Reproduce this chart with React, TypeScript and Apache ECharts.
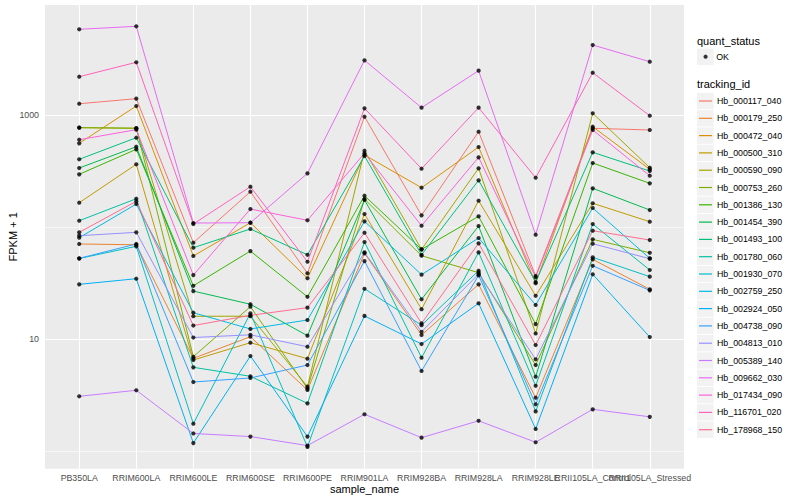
import React, { useEffect, useRef } from "react";
import * as echarts from "echarts";

const samples = [
  "PB350LA", "RRIM600LA", "RRIM600LE", "RRIM600SE", "RRIM600PE", "RRIM901LA",
  "RRIM928BA", "RRIM928LA", "RRIM928LE", "RRII105LA_Control", "RRII105LA_Stressed",
];

const trackingIds = [
  "Hb_000117_040", "Hb_000179_250", "Hb_000472_040", "Hb_000500_310", "Hb_000590_090",
  "Hb_000753_260", "Hb_001386_130", "Hb_001454_390", "Hb_001493_100", "Hb_001780_060",
  "Hb_001930_070", "Hb_002759_250", "Hb_002924_050", "Hb_004738_090", "Hb_004813_010",
  "Hb_005389_140", "Hb_009662_030", "Hb_017434_090", "Hb_116701_020", "Hb_178968_150",
];

const hueColors = [
  "#F8766D", "#EA8331", "#D89000", "#C09B00", "#A3A500", "#7CAE00", "#39B600", "#00BB4E",
  "#00BF7D", "#00C1A3", "#00BFC4", "#00BAE0", "#00B0F6", "#35A2FF", "#9590FF", "#C77CFF",
  "#E76BF3", "#FA62DB", "#FF62BC", "#FF6C91",
];

// FPKM + 1 per sample (same order as samples)
const hb000117_040 = [1266, 1404, 72.9, 207.8, 38.9, 969.6, 127.9, 712.5, 36.8, 764, 738];
const hb000179_250 = [71.0, 69.9, 6.78, 10.57, 3.54, 58.6, 10.95, 31.0, 3.02, 51.8, 28.0];
const hb000472_040 = [561.5, 1208, 55.5, 109.9, 35.1, 441.6, 225.6, 520.3, 31.7, 789.6, 329.2];
const hb000500_310 = [165.8, 364.8, 6.55, 9.35, 6.73, 131.4, 18.6, 172.7, 24.5, 163.8, 112.2];
const hb000590_090 = [773.6, 764, 16.1, 16.1, 3.79, 482.4, 63.6, 336.0, 11.3, 1040, 340.2];
const hb000753_260 = [775, 766, 7.01, 19.6, 3.66, 178.8, 55.8, 39.4, 5.91, 78.1, 59.3];
const hb001386_130 = [297.0, 496.4, 30.1, 61.4, 24.0, 191.3, 63.6, 125.3, 13.7, 374.6, 246.9];
const hb001454_390 = [338.1, 523.6, 27.0, 20.6, 10.8, 175.2, 22.8, 102.7, 4.65, 222.8, 142.7];
const hb001493_100 = [404.3, 630.1, 65.8, 96.6, 56.9, 432.5, 56.9, 262.6, 32.5, 466.7, 317.8];
const hb001780_060 = [114.5, 179.9, 5.64, 4.69, 2.69, 73.9, 6.87, 59.8, 3.86, 107.0, 41.6];
const hb001930_070 = [52.7, 67.7, 1.77, 17.1, 1.10, 28.3, 13.4, 41.0, 2.28, 54.0, 36.3];
const hb002759_250 = [80.8, 161.4, 17.3, 12.4, 14.9, 113.1, 37.8, 80.3, 20.3, 148.7, 52.9];
const hb002924_050 = [31.0, 34.8, 1.19, 7.11, 1.36, 16.2, 9.10, 21.0, 1.59, 38.1, 10.5];
const hb004738_090 = [52.9, 71.0, 4.17, 4.53, 5.91, 50.0, 5.23, 37.3, 2.64, 45.4, 27.4];
const hb004813_010 = [84.2, 90.2, 10.4, 11.0, 8.61, 59.8, 11.7, 38.3, 6.65, 71.4, 52.5];
const hb005389_140 = [3.11, 3.52, 1.45, 1.36, 1.13, 2.15, 1.33, 1.88, 1.21, 2.38, 2.04];
const hb009662_030 = [5839, 6209, 109.2, 109.9, 303.1, 3088, 1167, 2495, 85.9, 4228, 3001];
const hb017434_090 = [604.7, 742.6, 37.5, 145.6, 115.5, 457.2, 103.3, 421.1, 35.8, 738, 288.6];
const hb116701_020 = [2205, 2964, 107.0, 230.3, 49.3, 1152, 333.2, 1167, 277.0, 2394, 989.7];
const hb178968_150 = [90.2, 170.6, 13.3, 16.4, 19.2, 89.5, 13.9, 72.0, 8.91, 93.3, 77.0];

const trackingValues = [
  hb000117_040, hb000179_250, hb000472_040, hb000500_310, hb000590_090,
  hb000753_260, hb001386_130, hb001454_390, hb001493_100, hb001780_060,
  hb001930_070, hb002759_250, hb002924_050, hb004738_090, hb004813_010,
  hb005389_140, hb009662_030, hb017434_090, hb116701_020, hb178968_150,
];

const yMin = 0.703;
const yMax = 9616;
const yLabelValues = [10, 1000];
const yGridMajor = [10, 1000];
const yGridMinor = [1, 100];

export default function App() {
  const ref = useRef<HTMLDivElement>(null);

  useEffect(() => {
    if (!ref.current) return;
    const chart = echarts.init(ref.current, null, { renderer: "svg" });
    const font = "'Liberation Sans', Arial, Helvetica, sans-serif";
    const idx = samples.map((_, i) => i);
    const evenIdx = idx.filter((i) => i % 2 === 0);
    const oddIdx = idx.filter((i) => i % 2 === 1);

    const lineSeries = trackingIds.map((id, k) => ({
      name: id,
      type: "line",
      xAxisIndex: 0,
      yAxisIndex: 0,
      data: trackingValues[k].map((v, i) => [i, v]),
      symbol: "none",
      showSymbol: false,
      lineStyle: { color: hueColors[k], width: 1 },
      itemStyle: { color: hueColors[k] },
      z: 2,
      silent: true,
      emphasis: { disabled: true },
    }));

    const points: number[][] = [];
    trackingValues.forEach((vals) => vals.forEach((v, i) => points.push([i, v])));

    const okSeries = {
      name: "OK",
      type: "scatter",
      xAxisIndex: 0,
      yAxisIndex: 0,
      data: points,
      symbol: "circle",
      symbolSize: 4.2,
      itemStyle: { color: "#000000" },
      z: 3,
      silent: true,
      emphasis: { disabled: true },
    };

    const white = (w: number) => ({ color: "#FFFFFF", width: w, type: "solid" });
    const gridSeries = {
      name: "__grid",
      type: "line",
      xAxisIndex: 0,
      yAxisIndex: 0,
      data: [],
      z: 1,
      silent: true,
      markLine: {
        silent: true,
        symbol: ["none", "none"],
        label: { show: false },
        emphasis: { disabled: true },
        z: 1,
        data: [
          ...yGridMinor.map((v) => ({ yAxis: v, lineStyle: white(0.55) })),
          ...yGridMajor.map((v) => ({ yAxis: v, lineStyle: white(1.1) })),
          ...idx.map((i) => ({ xAxis: i, lineStyle: white(1.1) })),
        ],
      },
    };

    const keyY0 = 101;
    const keyStep = 17.3;
    const keyBoxes = trackingIds.map((_, k) => ({
      type: "rect",
      silent: true,
      z: 0,
      shape: { x: 697, y: keyY0 + k * keyStep - 8.2, width: 16.6, height: 16.4 },
      style: { fill: "#F2F2F2" },
    }));

    const xLabelStyle = {
      formatter: (v: number) => samples[Math.round(v)] ?? "",
      fontSize: 8.8,
      color: "#4D4D4D",
      fontFamily: font,
      margin: 4.5,
      hideOverlap: false,
      showMinLabel: true,
      showMaxLabel: true,
    };

    chart.setOption({
      animation: false,
      backgroundColor: "#FFFFFF",
      grid: {
        left: 45,
        right: 116,
        top: 5,
        bottom: 31.3,
        show: true,
        backgroundColor: "#EBEBEB",
        borderWidth: 0,
        containLabel: false,
        outerBoundsMode: "none",
      },
      xAxis: [
        {
          type: "value",
          min: -0.6,
          max: 10.6,
          position: "bottom",
          name: "sample_name",
          nameLocation: "middle",
          nameGap: 15,
          nameMoveOverlap: false,
          nameTextStyle: { fontSize: 11, color: "#000000", fontFamily: font },
          axisLine: { show: false },
          splitLine: { show: false },
          axisTick: { show: true, customValues: idx, length: 3.5, lineStyle: { color: "#333333", width: 1 } },
          axisLabel: { ...xLabelStyle, customValues: evenIdx },
        },
        {
          type: "value",
          min: -0.6,
          max: 10.6,
          position: "bottom",
          offset: 0,
          axisLine: { show: false },
          splitLine: { show: false },
          axisTick: { show: false },
          axisLabel: { ...xLabelStyle, customValues: oddIdx },
        },
      ],
      yAxis: [
        {
          type: "log",
          logBase: 10,
          min: yMin,
          max: yMax,
          axisLine: { show: false },
          axisTick: { show: false },
          axisLabel: { show: false },
          splitLine: { show: false },
        },
        {
          type: "value",
          position: "left",
          offset: 0,
          min: Math.log10(yMin),
          max: Math.log10(yMax),
          name: "FPKM + 1",
          nameLocation: "middle",
          nameGap: 27,
          nameMoveOverlap: false,
          nameTextStyle: { fontSize: 11, color: "#000000", fontFamily: font },
          axisLine: { show: false },
          splitLine: { show: false },
          axisTick: {
            show: true,
            customValues: yLabelValues.map((v) => Math.log10(v)),
            length: 3.5,
            lineStyle: { color: "#333333", width: 1 },
          },
          axisLabel: {
            customValues: yLabelValues.map((v) => Math.log10(v)),
            formatter: (v: number) => String(Math.round(Math.pow(10, v))),
            fontSize: 8.8,
            color: "#4D4D4D",
            fontFamily: font,
            margin: 6,
          },
        },
      ],
      legend: [
        {
          data: ["OK"],
          orient: "vertical",
          left: 703.5,
          top: 50.7,
          padding: 0,
          icon: "circle",
          itemWidth: 4.2,
          itemHeight: 4.2,
          selectedMode: false,
          textStyle: { fontSize: 8.8, color: "#000000", fontFamily: font, lineHeight: 12, padding: [0, 0, 0, 3.5] },
        },
        {
          data: trackingIds,
          orient: "vertical",
          left: 699,
          top: 95,
          padding: 0,
          icon: "rect",
          itemWidth: 13,
          itemHeight: 1.2,
          itemGap: 5.3,
          selectedMode: false,
          textStyle: { fontSize: 8.8, color: "#000000", fontFamily: font, lineHeight: 12 },
        },
      ],
      graphic: [
        {
          type: "rect",
          silent: true,
          z: 0,
          shape: { x: 697, y: 56.7 - 8.2, width: 16.6, height: 16.4 },
          style: { fill: "#F2F2F2" },
        },
        ...keyBoxes,
        {
          type: "text",
          silent: true,
          x: 697,
          y: 40.7,
          style: { text: "quant_status", fontSize: 11, fontFamily: font, fill: "#000000", verticalAlign: "middle" },
        },
        {
          type: "text",
          silent: true,
          x: 697,
          y: 84.3,
          style: { text: "tracking_id", fontSize: 11, fontFamily: font, fill: "#000000", verticalAlign: "middle" },
        },
      ],
      series: [gridSeries, ...lineSeries, okSeries],
    });

    return () => chart.dispose();
  }, []);

  return (
    <div
      ref={ref}
      style={{ position: "fixed", left: 0, top: 0, width: 800, height: 500, background: "#FFFFFF" }}
    />
  );
}
